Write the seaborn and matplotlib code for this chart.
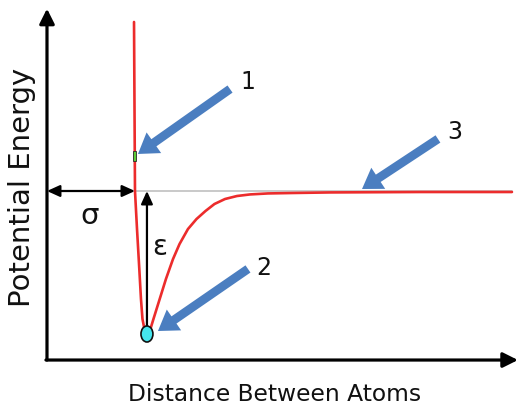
import matplotlib
matplotlib.use("Agg")
import matplotlib.pyplot as plt
from matplotlib.patches import Ellipse, Rectangle
import numpy as np
import pandas as pd
import seaborn as sns

# Interatomic potential curve: distance in units of sigma, energy in units of epsilon
distance = [0.989, 0.994, 1.000, 1.023, 1.049, 1.068, 1.085, 1.114, 1.136,
            1.165, 1.210, 1.281, 1.352, 1.432, 1.506, 1.602, 1.699, 1.801,
            1.903, 2.023, 2.159, 2.307, 2.511, 2.784, 3.216, 4.239, 5.284]
energy = [1.182, 0.643, 0.0, -0.266, -0.545, -0.755, -0.895, -0.986, -1.0,
          -0.986, -0.895, -0.755, -0.615, -0.476, -0.371, -0.266, -0.196, -0.140,
          -0.091, -0.056, -0.035, -0.024, -0.017, -0.014, -0.010, -0.007, -0.007]

sigma = 1.0
epsilon = 1.0
callout_labels = ["1", "2", "3"]
x_title = "Distance Between Atoms"
y_title = "Potential Energy"

sns.set_theme(style="white")
plt.rcParams["font.family"] = ["DejaVu Sans"]

df = pd.DataFrame({"r": distance, "V": energy})

fig = plt.figure(figsize=(5.19, 4.06), dpi=100)
ax = fig.add_axes([0, 0, 1, 1])
ax.set_axis_off()
ax.set_xlim(-0.534, 5.364)
ax.set_ylim(-1.4965, 1.3427)

black = "#000000"
blue = "#4b7ec0"
red = "#ec2c2c"

# coordinate axes drawn as arrows
floor = -1.182
ax.annotate("", xy=(0, 1.275), xytext=(0, floor), zorder=3,
            arrowprops=dict(arrowstyle="-|>,head_length=0.5,head_width=0.25",
                            mutation_scale=18, lw=2.3, color=black,
                            shrinkA=0, shrinkB=0))
ax.annotate("", xy=(5.352, floor), xytext=(-0.012, floor), zorder=3,
            arrowprops=dict(arrowstyle="-|>,head_length=0.5,head_width=0.25",
                            mutation_scale=18, lw=2.3, color=black,
                            shrinkA=0, shrinkB=0))

# zero-energy reference line
ax.plot([sigma, distance[-1]], [0, 0], color="#c9c9c9", lw=1.4, zorder=1)

# potential curve
sns.lineplot(data=df, x="r", y="V", ax=ax, color=red, lw=1.9,
             estimator=None, sort=False, zorder=4)
ax.set_xlabel("")
ax.set_ylabel("")

# sigma: distance where the potential crosses zero
ax.annotate("", xy=(sigma, 0), xytext=(0, 0), zorder=5,
            arrowprops=dict(arrowstyle="<|-|>,head_length=0.55,head_width=0.25",
                            mutation_scale=14, lw=1.6, color=black,
                            shrinkA=0, shrinkB=0))
ax.text(0.489, -0.17, "σ", fontsize=21, ha="center", va="center", color="#111111")

# epsilon: depth of the well
imin = int(np.argmin(energy))
r_min, v_min = distance[imin], energy[imin]
ax.annotate("", xy=(r_min, 0), xytext=(r_min, v_min), zorder=3,
            arrowprops=dict(arrowstyle="-|>,head_length=0.55,head_width=0.25",
                            mutation_scale=14, lw=1.6, color=black,
                            shrinkA=0, shrinkB=0))
ax.text(r_min + 0.148, -0.385 * epsilon, "ε", fontsize=20, ha="center",
        va="center", color="#111111")

# particle sitting at the bottom of the well
ax.add_patch(Ellipse((r_min, v_min * epsilon), width=0.136, height=0.112,
                     facecolor="#45e6ee", edgecolor="#111111", lw=1.2, zorder=6))

# marker on the repulsive wall
ax.add_patch(Rectangle((0.983, 0.210), 0.034, 0.07, facecolor="#5ccc36",
                       edgecolor="#2a2a2a", lw=0.6, zorder=6))

# numbered callout arrows
callouts = [((2.080, 0.713), (1.034, 0.259), (2.284, 0.77)),
            ((2.284, -0.545), (1.261, -0.979), (2.466, -0.53)),
            ((4.443, 0.364), (3.580, 0.014), (4.636, 0.42))]
for label, (tail, tip, pos) in zip(callout_labels, callouts):
    ax.annotate("", xy=tip, xytext=tail, zorder=7,
                arrowprops=dict(arrowstyle="simple,head_length=1.0,head_width=1.3,tail_width=0.45",
                                mutation_scale=14, color=blue, lw=0,
                                shrinkA=0, shrinkB=0))
    ax.text(pos[0], pos[1], label, fontsize=17, ha="center", va="center",
            color="#111111")

# axis titles
ax.text(2.591, -1.415, x_title, fontsize=16.8, ha="center", va="center",
        color="#111111")
ax.text(-0.284, 0.03, y_title, fontsize=21, rotation=90, ha="center",
        va="center", color="#111111")

fig.savefig("out.png", dpi=100)
